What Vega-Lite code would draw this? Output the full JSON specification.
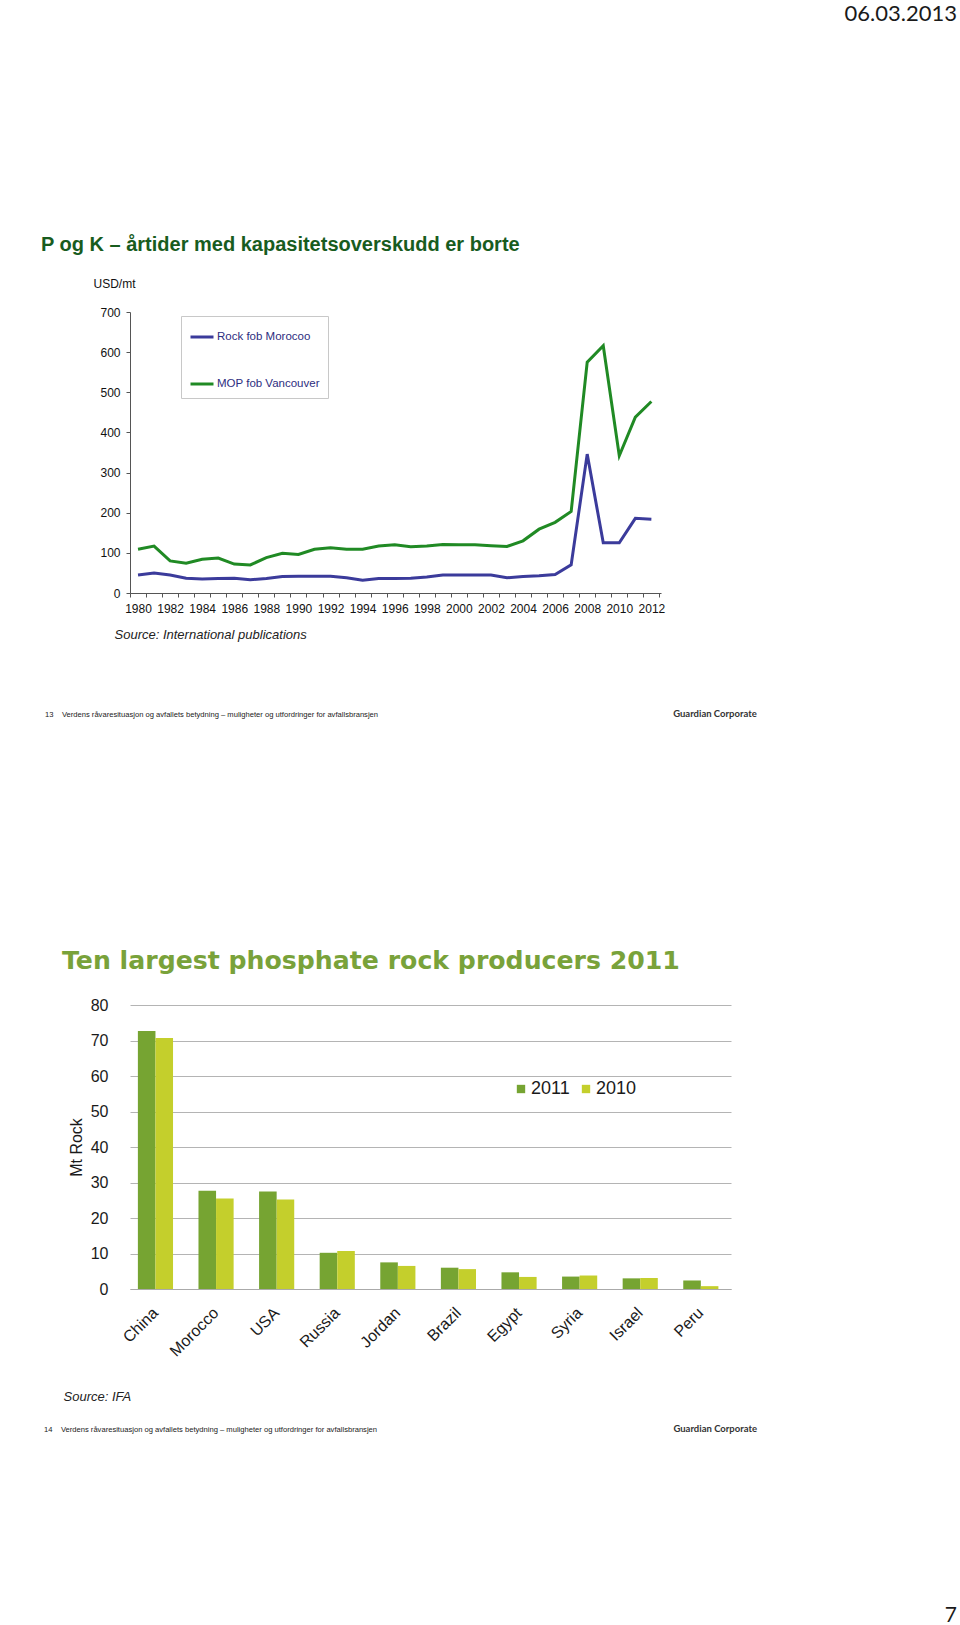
{
  "$schema": "https://vega.github.io/schema/vega-lite/v6.json",
  "background": "white",
  "padding": {"left": 41, "top": 2, "right": 2, "bottom": 2},
  "title": {"text": "06.03.2013", "anchor": "end", "font": "Lato", "fontSize": 22, "fontWeight": "normal", "color": "#1a1a1a", "offset": 209.5},
  "spacing": 229,
  "resolve": {"scale": {"color": "independent"}, "legend": {"color": "independent"}},
  "datasets": {
    "prices": [
      {"year": 1980, "series": "Rock fob Morocoo", "value": 45}, {"year": 1981, "series": "Rock fob Morocoo", "value": 50},
      {"year": 1982, "series": "Rock fob Morocoo", "value": 45}, {"year": 1983, "series": "Rock fob Morocoo", "value": 37},
      {"year": 1984, "series": "Rock fob Morocoo", "value": 35}, {"year": 1985, "series": "Rock fob Morocoo", "value": 36},
      {"year": 1986, "series": "Rock fob Morocoo", "value": 37}, {"year": 1987, "series": "Rock fob Morocoo", "value": 33},
      {"year": 1988, "series": "Rock fob Morocoo", "value": 36}, {"year": 1989, "series": "Rock fob Morocoo", "value": 41},
      {"year": 1990, "series": "Rock fob Morocoo", "value": 42}, {"year": 1991, "series": "Rock fob Morocoo", "value": 42},
      {"year": 1992, "series": "Rock fob Morocoo", "value": 42}, {"year": 1993, "series": "Rock fob Morocoo", "value": 38},
      {"year": 1994, "series": "Rock fob Morocoo", "value": 32}, {"year": 1995, "series": "Rock fob Morocoo", "value": 36},
      {"year": 1996, "series": "Rock fob Morocoo", "value": 36}, {"year": 1997, "series": "Rock fob Morocoo", "value": 37},
      {"year": 1998, "series": "Rock fob Morocoo", "value": 40}, {"year": 1999, "series": "Rock fob Morocoo", "value": 45},
      {"year": 2000, "series": "Rock fob Morocoo", "value": 45}, {"year": 2001, "series": "Rock fob Morocoo", "value": 45},
      {"year": 2002, "series": "Rock fob Morocoo", "value": 45}, {"year": 2003, "series": "Rock fob Morocoo", "value": 38},
      {"year": 2004, "series": "Rock fob Morocoo", "value": 41}, {"year": 2005, "series": "Rock fob Morocoo", "value": 43},
      {"year": 2006, "series": "Rock fob Morocoo", "value": 46}, {"year": 2007, "series": "Rock fob Morocoo", "value": 70},
      {"year": 2008, "series": "Rock fob Morocoo", "value": 346}, {"year": 2009, "series": "Rock fob Morocoo", "value": 125},
      {"year": 2010, "series": "Rock fob Morocoo", "value": 125}, {"year": 2011, "series": "Rock fob Morocoo", "value": 186},
      {"year": 2012, "series": "Rock fob Morocoo", "value": 184},
      {"year": 1980, "series": "MOP fob Vancouver", "value": 109}, {"year": 1981, "series": "MOP fob Vancouver", "value": 117},
      {"year": 1982, "series": "MOP fob Vancouver", "value": 80}, {"year": 1983, "series": "MOP fob Vancouver", "value": 74},
      {"year": 1984, "series": "MOP fob Vancouver", "value": 84}, {"year": 1985, "series": "MOP fob Vancouver", "value": 87},
      {"year": 1986, "series": "MOP fob Vancouver", "value": 72}, {"year": 1987, "series": "MOP fob Vancouver", "value": 70},
      {"year": 1988, "series": "MOP fob Vancouver", "value": 88}, {"year": 1989, "series": "MOP fob Vancouver", "value": 99},
      {"year": 1990, "series": "MOP fob Vancouver", "value": 96}, {"year": 1991, "series": "MOP fob Vancouver", "value": 109},
      {"year": 1992, "series": "MOP fob Vancouver", "value": 113}, {"year": 1993, "series": "MOP fob Vancouver", "value": 109},
      {"year": 1994, "series": "MOP fob Vancouver", "value": 109}, {"year": 1995, "series": "MOP fob Vancouver", "value": 117},
      {"year": 1996, "series": "MOP fob Vancouver", "value": 120}, {"year": 1997, "series": "MOP fob Vancouver", "value": 115},
      {"year": 1998, "series": "MOP fob Vancouver", "value": 117}, {"year": 1999, "series": "MOP fob Vancouver", "value": 121},
      {"year": 2000, "series": "MOP fob Vancouver", "value": 120}, {"year": 2001, "series": "MOP fob Vancouver", "value": 120},
      {"year": 2002, "series": "MOP fob Vancouver", "value": 118}, {"year": 2003, "series": "MOP fob Vancouver", "value": 116},
      {"year": 2004, "series": "MOP fob Vancouver", "value": 130}, {"year": 2005, "series": "MOP fob Vancouver", "value": 159},
      {"year": 2006, "series": "MOP fob Vancouver", "value": 176}, {"year": 2007, "series": "MOP fob Vancouver", "value": 203},
      {"year": 2008, "series": "MOP fob Vancouver", "value": 575}, {"year": 2009, "series": "MOP fob Vancouver", "value": 616},
      {"year": 2010, "series": "MOP fob Vancouver", "value": 342}, {"year": 2011, "series": "MOP fob Vancouver", "value": 438},
      {"year": 2012, "series": "MOP fob Vancouver", "value": 477}
    ],
    "producers": [
      {"country": "China", "year": "2011", "value": 72.7}, {"country": "China", "year": "2010", "value": 70.7},
      {"country": "Morocco", "year": "2011", "value": 27.7}, {"country": "Morocco", "year": "2010", "value": 25.5},
      {"country": "USA", "year": "2011", "value": 27.5}, {"country": "USA", "year": "2010", "value": 25.2},
      {"country": "Russia", "year": "2011", "value": 10.2}, {"country": "Russia", "year": "2010", "value": 10.7},
      {"country": "Jordan", "year": "2011", "value": 7.5}, {"country": "Jordan", "year": "2010", "value": 6.5},
      {"country": "Brazil", "year": "2011", "value": 6.0}, {"country": "Brazil", "year": "2010", "value": 5.6},
      {"country": "Egypt", "year": "2011", "value": 4.7}, {"country": "Egypt", "year": "2010", "value": 3.4},
      {"country": "Syria", "year": "2011", "value": 3.5}, {"country": "Syria", "year": "2010", "value": 3.8},
      {"country": "Israel", "year": "2011", "value": 3.0}, {"country": "Israel", "year": "2010", "value": 3.1},
      {"country": "Peru", "year": "2011", "value": 2.4}, {"country": "Peru", "year": "2010", "value": 0.8}
    ]
  },
  "vconcat": [
    {
      "title": {"text": "Guardian Corporate", "orient": "bottom", "anchor": "end", "font": "Lato", "fontSize": 9.5, "fontWeight": "bold", "color": "#333", "offset": 0, "dx": 92, "dy": -10},
      "vconcat": [
        {
          "title": {"text": "13\u00a0\u00a0\u00a0\u00a0Verdens råvaresituasjon og avfallets betydning – muligheter og utfordringer for avfallsbransjen", "orient": "bottom", "anchor": "start", "font": "Liberation Sans", "fontSize": 7.6, "fontWeight": "normal", "color": "#222", "offset": 70, "dx": 4},
          "vconcat": [
            {
              "width": 531,
              "height": 281,
              "data": {"name": "prices"},
              "title": {"text": "P og K – årtider med kapasitetsoverskudd er borte", "anchor": "start", "frame": "group", "dx": -89, "offset": 22, "font": "Liberation Sans", "fontSize": 20, "fontWeight": "bold", "color": "#185c1e"},
              "mark": {"type": "line", "strokeWidth": 3},
              "encoding": {
                "x": {
                  "field": "year", "type": "quantitative",
                  "scale": {"domain": [1979.5, 2012.6], "nice": false, "zero": false},
                  "axis": {
                    "title": "Source: International publications",
                    "titleFont": "Liberation Sans", "titleFontStyle": "italic", "titleFontWeight": "normal", "titleFontSize": 13, "titleColor": "#222",
                    "titleAnchor": "start", "titleAlign": "left", "titleX": -16, "titleY": 45, "titleBaseline": "alphabetic",
                    "values": [1979.5, 1980, 1980.5, 1981.5, 1982, 1982.5, 1983.5, 1984, 1984.5, 1985.5, 1986, 1986.5, 1987.5, 1988, 1988.5, 1989.5, 1990, 1990.5, 1991.5, 1992, 1992.5, 1993.5, 1994, 1994.5, 1995.5, 1996, 1996.5, 1997.5, 1998, 1998.5, 1999.5, 2000, 2000.5, 2001.5, 2002, 2002.5, 2003.5, 2004, 2004.5, 2005.5, 2006, 2006.5, 2007.5, 2008, 2008.5, 2009.5, 2010, 2010.5, 2011.5, 2012, 2012.5],
                    "labelExpr": "datum.value % 1 === 0 ? '' + datum.value : ''",
                    "tickOpacity": {"condition": {"test": "datum.value % 1 === 0", "value": 0}, "value": 1},
                    "tickSize": 4, "tickColor": "#555", "domainColor": "#555", "grid": false,
                    "labelFontSize": 12, "labelColor": "#111", "labelPadding": 6, "labelOverlap": false, "labelFlush": false, "labelBound": false
                  }
                },
                "y": {
                  "field": "value", "type": "quantitative",
                  "scale": {"domain": [0, 700], "nice": false},
                  "axis": {
                    "values": [0, 100, 200, 300, 400, 500, 600, 700],
                    "title": "USD/mt", "titleAngle": 0, "titleAlign": "left", "titleX": -37, "titleY": -25, "titleBaseline": "alphabetic",
                    "titleFontSize": 12, "titleFontWeight": "normal", "titleColor": "#111",
                    "labelFontSize": 12, "labelColor": "#111", "labelPadding": 6, "tickSize": 4, "tickColor": "#555", "domainColor": "#555", "grid": false
                  }
                },
                "color": {
                  "field": "series", "type": "nominal",
                  "scale": {"domain": ["Rock fob Morocoo", "MOP fob Vancouver"], "range": ["#3b3b9b", "#208a24"]},
                  "legend": {
                    "orient": "none", "legendX": 51, "legendY": 4, "title": null, "direction": "vertical",
                    "symbolType": "stroke", "symbolSize": 529, "symbolStrokeWidth": 3,
                    "labelFontSize": 11.5, "labelColor": "#2d2d80", "labelOffset": 2, "rowPadding": 28, "padding": 8,
                    "strokeColor": "#c8c8c8", "fillColor": "white"
                  }
                }
              }
            }
          ]
        }
      ]
    },
    {
      "title": {"text": "7", "orient": "bottom", "anchor": "end", "font": "Lato", "fontSize": 21, "fontWeight": "normal", "color": "#1a1a1a", "offset": 171, "dx": 200},
      "vconcat": [
        {
          "title": {"text": "Guardian Corporate", "orient": "bottom", "anchor": "end", "font": "Lato", "fontSize": 9.5, "fontWeight": "bold", "color": "#333", "offset": 0, "dx": 26, "dy": -10},
          "vconcat": [
            {
              "title": {"text": "14\u00a0\u00a0\u00a0\u00a0Verdens råvaresituasjon og avfallets betydning – muligheter og utfordringer for avfallsbransjen", "orient": "bottom", "anchor": "start", "font": "Liberation Sans", "fontSize": 7.6, "fontWeight": "normal", "color": "#222", "offset": 23, "dx": -18},
              "vconcat": [
                {
                  "width": 601,
                  "height": 284,
                  "data": {"name": "producers"},
                  "title": {"text": "Ten largest phosphate rock producers 2011", "anchor": "start", "frame": "group", "dx": -68, "offset": 23, "font": "DejaVu Sans", "fontSize": 25.2, "fontWeight": "bold", "color": "#79a23a"},
                  "mark": {"type": "bar"},
                  "encoding": {
                    "x": {
                      "field": "country", "type": "nominal",
                      "sort": ["China", "Morocco", "USA", "Russia", "Jordan", "Brazil", "Egypt", "Syria", "Israel", "Peru"],
                      "scale": {"paddingInner": 0.42, "paddingOuter": 0.169, "align": 0.385},
                      "axis": {
                        "title": "Source: IFA", "titleFont": "Liberation Sans", "titleFontStyle": "italic", "titleFontWeight": "normal", "titleFontSize": 13, "titleColor": "#222",
                        "titleAnchor": "start", "titleAlign": "left", "titleX": -67, "titleY": 111, "titleBaseline": "alphabetic",
                        "labelAngle": -45, "labelAlign": "right", "labelBaseline": "middle", "labelFontSize": 16, "labelColor": "#1a1a1a", "labelPadding": 21,
                        "ticks": false, "domainColor": "#aaa", "grid": false
                      }
                    },
                    "xOffset": {"field": "year", "type": "nominal", "sort": ["2011", "2010"]},
                    "y": {
                      "field": "value", "type": "quantitative",
                      "scale": {"domain": [0, 80], "nice": false},
                      "axis": {
                        "values": [0, 10, 20, 30, 40, 50, 60, 70, 80],
                        "title": "Mt Rock", "titleFontSize": 16, "titleFontWeight": "normal", "titleColor": "#1a1a1a", "titlePadding": 6,
                        "grid": true, "gridColor": "#b4b4b4", "domain": false, "ticks": false,
                        "labelFontSize": 16, "labelColor": "#1a1a1a", "labelPadding": 22
                      }
                    },
                    "color": {
                      "field": "year", "type": "nominal",
                      "scale": {"domain": ["2011", "2010"], "range": ["#76a432", "#c4cf2c"]},
                      "legend": {
                        "orient": "none", "legendX": 382, "legendY": 75, "title": null, "direction": "horizontal",
                        "symbolType": "square", "symbolSize": 70, "symbolStrokeWidth": 0,
                        "labelFontSize": 18, "labelColor": "#1a1a1a", "labelOffset": 1, "columnPadding": 7, "padding": 0
                      }
                    }
                  }
                }
              ]
            }
          ]
        }
      ]
    }
  ],
  "config": {
    "view": {"stroke": null},
    "font": "Liberation Sans"
  }
}
